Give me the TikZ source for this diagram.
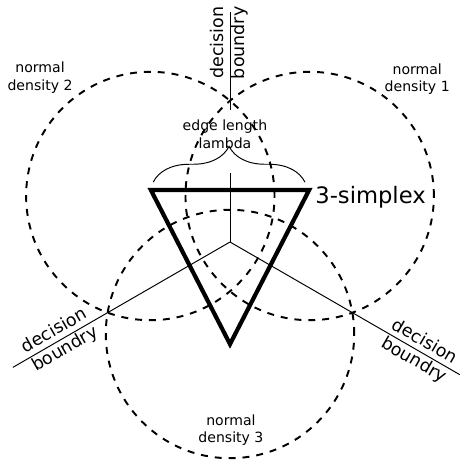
\documentclass[tikz,border=0pt]{standalone}
\usepackage{fontspec}
\setmainfont{DejaVu Sans}
\usetikzlibrary{decorations.pathreplacing}

\begin{document}
\begin{tikzpicture}[
      density/.style={dash pattern=on 4.3pt off 4.3pt, line width=1.2pt},
      boundary/.style={line width=0.6pt},
      densitytext/.style={align=center, inner sep=1pt, font=\fontsize{8.7}{11}\selectfont},
      boundtext/.style={align=center, inner sep=1pt, font=\fontsize{10.8}{13.2}\selectfont}
    ]
      \useasboundingbox (-5,-4.739) rectangle (5,5.261);

      % Normal densities
      \draw[density] (30:2) circle (2.7);
      \draw[density] (150:2) circle (2.7);
      \draw[density] (270:2) circle (2.7);

      % Decision boundaries
      \coordinate (o) at (0,0);
      \coordinate (vlow) at (0,1.50);
      \coordinate (vhigh) at (0,2.87);
      \coordinate (vtop) at (0,5.0);
      \coordinate (lend) at (210:5.45);
      \coordinate (rend) at (-30:5.77);
      \draw[boundary] (o) -- (vlow) (vhigh) -- (vtop);
      \draw[boundary] (o) -- (lend);
      \draw[boundary] (o) -- (rend);

      % 3-simplex
      \coordinate (tl) at (-1.72,1.13);
      \coordinate (tr) at (1.72,1.13);
      \coordinate (bt) at (0,-2.22);
      \draw[line width=2.6pt] (tl) -- (tr) -- (bt) -- cycle;

      % Edge length brace
      \coordinate (bl) at (-1.67,1.30);
      \coordinate (br) at (1.63,1.30);
      \draw[boundary, decorate, decoration={brace, amplitude=0.78cm}] (bl) -- (br);

      % Labels
      \node[boundtext, rotate=90] (btop) at (-0.02,4.33) {decision\\boundry};
      \node[boundtext, rotate=30] (bleft) at (210:4.27) {decision\\boundry};
      \node[boundtext, rotate=-30] (bright) at (-30:4.75) {decision\\boundry};
      \node[densitytext] (d1) at (4.07,3.54) {normal\\density 1};
      \node[densitytext] (d2) at (-4.13,3.57) {normal\\density 2};
      \node[densitytext] (d3) at (0.02,-4.09) {normal\\density 3};
      \node[densitytext] (edge) at (-0.11,2.35) {edge length\\lambda};
      \node[anchor=base west, inner sep=0pt, font=\fontsize{14}{16}\selectfont] (simplex) at (1.85,0.83) {3-simplex};
    \end{tikzpicture}
\end{document}
